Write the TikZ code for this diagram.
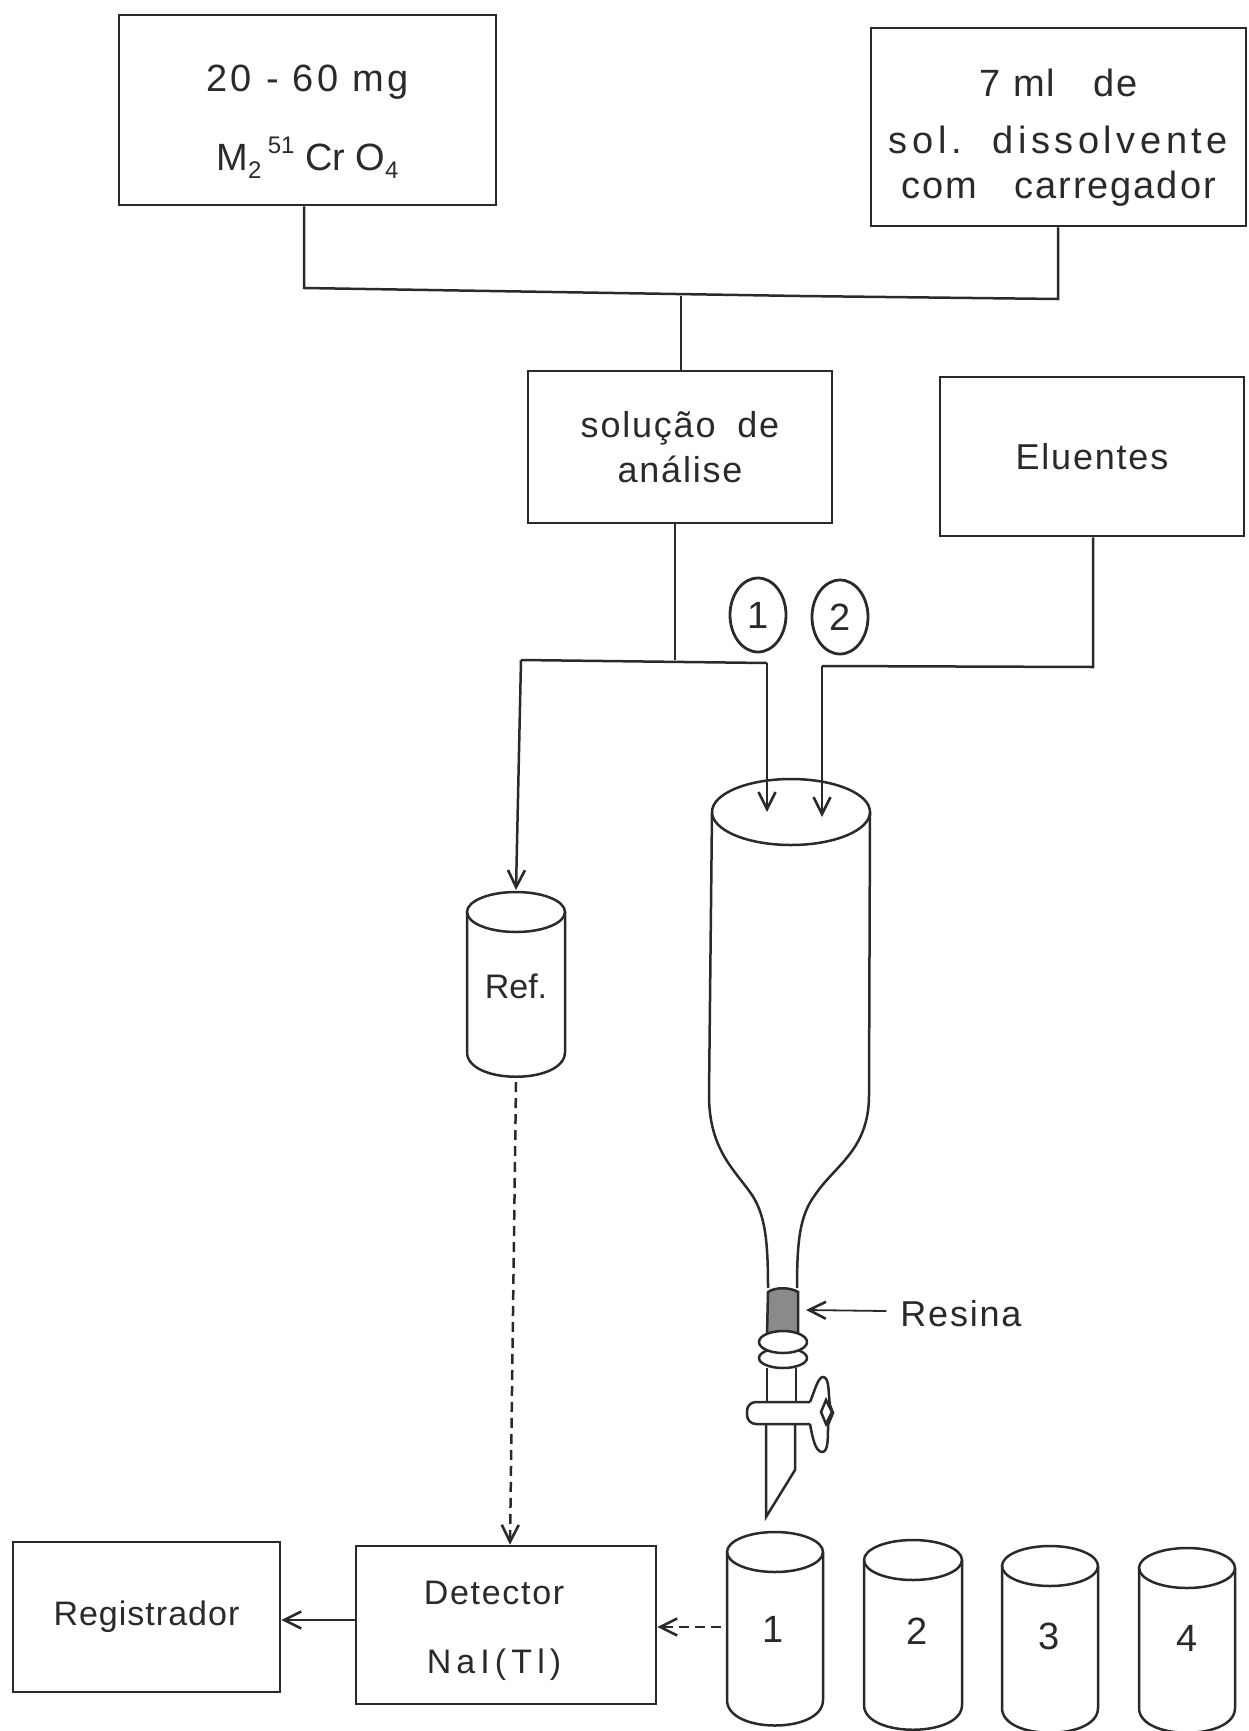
\documentclass[tikz,border=0pt]{standalone}
\usepackage{fontspec}
\setmainfont{Liberation Sans}
\newfontfamily\lsA[LetterSpace=3]{Liberation Sans}
\newfontfamily\lsB[LetterSpace=5]{Liberation Sans}
\newfontfamily\lsC[LetterSpace=9]{Liberation Sans}
\newfontfamily\lsD[LetterSpace=12]{Liberation Sans}
\newfontfamily\lsE[LetterSpace=15]{Liberation Sans}
\usetikzlibrary{arrows.meta,shapes.geometric,patterns}
\definecolor{ink}{HTML}{2A2A2A}
\newcommand{\lowr}[1]{\raisebox{-8pt}{\fontsize{24}{24}\selectfont #1}}
\newcommand{\uppr}[1]{\raisebox{17pt}{\fontsize{24}{24}\selectfont #1}}
\tikzset{
  boxnode/.style={draw=ink,line width=2.6pt,align=center,text=ink,inner sep=0pt,font=\fontsize{36}{45}\selectfont},
  bignode/.style={boxnode,font=\fontsize{38}{45}\selectfont},
  lbl/.style={text=ink,inner sep=0pt,align=center,font=\fontsize{34}{40}\selectfont},
  wire/.style={draw=ink,line width=2.5pt},
  tipped/.style={wire,-{Straight Barb[length=17pt,width=17pt,line width=2.6pt]}},
  dashwire/.style={tipped,dash pattern=on 10pt off 6pt},
  glass/.style={draw=ink,line width=2.5pt},
  tagnode/.style={draw=ink,line width=2.8pt,shape=ellipse,inner sep=0pt,minimum width=56pt,minimum height=74pt,text=ink,font=\fontsize{38}{38}\selectfont}
}
\newcommand{\cylinder}[5]{% left, right, top-centre y, bottom-side y, bottom y
  \draw[glass] ({(#1+#2)/2},#3) ellipse[x radius={(#2-#1)/2},y radius=20];
  \draw[glass] (#1,#3) -- (#1,#4) .. controls (#1,#5) and (#2,#5) .. (#2,#4) -- (#2,#3);
}
\begin{document}
\begin{tikzpicture}[x=1pt,y=-1pt]
\useasboundingbox (0,0) rectangle (1248,1731);
\node[bignode,minimum width=377pt,minimum height=190pt] (sample) at (307.5,110) {\rule{0pt}{50pt}{\lsC 20 - 60 mg}\\[34pt]M\lowr{2}\,\uppr{51}\;Cr\;O\lowr{4}};
\node[bignode,minimum width=375pt,minimum height=198pt] (solvent) at (1058.5,127) {\rule{0pt}{48pt}{\lsB 7 ml\quad de}\\[12pt]{\lsD sol.\; dissolvente}\\{\lsB com\quad carregador}};
\node[boxnode,minimum width=304pt,minimum height=152pt] (analysis) at (680,447) {{\lsB solução\; de}\\{\lsB análise}};
\node[boxnode,minimum width=304pt,minimum height=159pt] (eluents) at (1092,456.5) {{\lsB Eluentes}};
\node[boxnode,minimum width=267pt,minimum height=150pt,font=\fontsize{34}{45}\selectfont] (recorder) at (146.5,1617) {{\lsA Registrador}};
\node[boxnode,minimum width=300pt,minimum height=158pt,font=\fontsize{34}{45}\selectfont] (detector) at (506,1625) {\rule{0pt}{34pt}{\lsB Detector}\hspace*{24pt}\\[24pt]{\lsE NaI(Tl)}\hspace*{24pt}};
\coordinate (busL) at (304,287);
\coordinate (busM) at (681,296);
\coordinate (busR) at (1058,299);
\draw[wire] (sample.south -| busL) -- (busL) -- (304,288) -- (800,296) -- (busR) -- (solvent.south -| busR);
\draw[wire] (busM) -- (analysis.north -| busM);
\coordinate (feedA) at (675,660);
\coordinate (feedL) at (521,660);
\coordinate (feedR) at (767,663);
\coordinate (feedB) at (822,666);
\coordinate (feedE) at (1093,667);
\draw[wire] (analysis.south -| feedA) -- (feedA);
\draw[wire] (feedL) -- (feedR);
\draw[wire] (feedB) -- (feedE) -- (eluents.south -| feedE);
\node[tagnode] (tagone) at (758,615) {1};
\node[tagnode] (tagtwo) at (840,617) {2};
% flask
\coordinate (flaskA) at (767,812);
\coordinate (flaskB) at (822,817);
\draw[glass] (791,812) ellipse[x radius=79,y radius=33];
\draw[glass] (712,812) -- (709,1095) .. controls (709,1150) and (735,1170) .. (752,1195)
  .. controls (765,1215) and (768,1240) .. (768,1288);
\draw[glass] (870,812) -- (869,1095) .. controls (869,1150) and (835,1165) .. (815,1195)
  .. controls (800,1215) and (797,1240) .. (797,1288);
\draw[tipped] (feedR) -- (flaskA);
\draw[tipped] (feedB) -- (flaskB);
% resin and stopcock
\draw[glass,fill=ink!55] (768,1292) .. controls (775,1287) and (790,1287) .. (798,1292) -- (798,1335) -- (767,1335) -- cycle;
\draw[glass,fill=white] (783,1358) ellipse[x radius=24,y radius=10];
\draw[glass,fill=white] (783,1342) ellipse[x radius=24,y radius=11];
\draw[glass] (767,1368) -- (767,1402) (796,1368) -- (796,1402);
\draw[glass,rounded corners=9pt] (810,1402) -- (747,1402) -- (747,1424) -- (810,1424);
\draw[glass] (810,1402) .. controls (815,1390) and (818,1377) .. (823,1377) .. controls (830,1377) and (828,1395) .. (830,1405)
  -- (833,1413) -- (828,1425) .. controls (828,1440) and (828,1452) .. (822,1452) .. controls (815,1452) and (812,1435) .. (810,1424);
\draw[glass] (826,1400) -- (821,1412) -- (826,1424) -- (832,1412) -- cycle;
\draw[glass] (766,1424) -- (766,1517) -- (795,1470) -- (795,1424);
\node[lbl,font=\fontsize{36}{40}\selectfont] (resinlabel) at (961,1314) {{\lsB Resina}};
\coordinate (resinpt) at (806,1310);
\draw[tipped,line width=1.8pt] (resinlabel.west) ++(-14,-3) -- (resinpt);
% reference vial
\cylinder{467}{565}{912}{1052}{1085}
\node[lbl] (reflabel) at (516,986) {Ref.};
\coordinate (refin) at (516,890);
\draw[tipped] (feedL) -- (refin);
\coordinate (refout) at (516,1082);
\draw[dashwire] (refout) -- (detector.north -| 510,0);
% collection vials
\cylinder{727}{823}{1552}{1700}{1734}
\cylinder{864}{962}{1560}{1705}{1738}
\cylinder{1002}{1098}{1566}{1708}{1741}
\cylinder{1139}{1235}{1568}{1708}{1741}
\node[lbl,font=\fontsize{38}{40}\selectfont] (vialone) at (773,1629) {1};
\node[lbl,font=\fontsize{38}{40}\selectfont] (vialtwo) at (917,1631) {2};
\node[lbl,font=\fontsize{38}{40}\selectfont] (vialthree) at (1049,1636) {3};
\node[lbl,font=\fontsize{38}{40}\selectfont] (vialfour) at (1187,1638) {4};
\coordinate (vialout) at (721,1627);
\draw[dashwire] (vialout) -- (detector.east |- vialout);
\draw[tipped] (detector.west |- 0,1620) -- (recorder.east |- 0,1620);
\end{tikzpicture}
\end{document}
